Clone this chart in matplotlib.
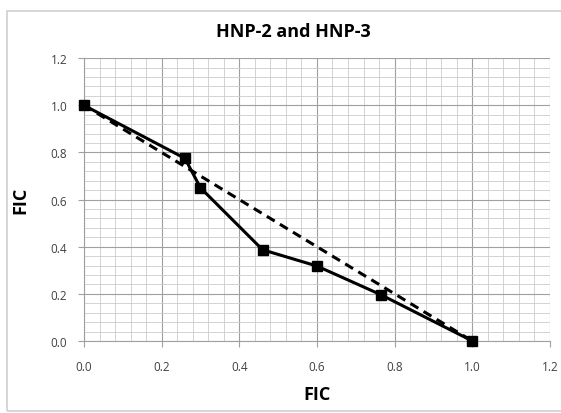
import matplotlib
matplotlib.use("Agg")
from matplotlib import pyplot as plt
from matplotlib.patches import Rectangle
from matplotlib.ticker import MultipleLocator

plt.rcParams['font.family'] = ['Open Sans', 'DejaVu Sans']

# measured combination points
fic_x = [0.0, 0.26, 0.30, 0.46, 0.60, 0.765, 1.0]
fic_y = [1.0, 0.775, 0.65, 0.387, 0.318, 0.196, 0.0]

# additivity line
line_x = [0.0, 1.0]
line_y = [1.0, 0.0]

title = 'HNP-2 and HNP-3'

fig = plt.figure(figsize=(5.61, 4.14), dpi=100)
ax = fig.add_axes([0.1497, 0.174, 0.8305, 0.683])

# light frame around the chart area
fig.patches.append(Rectangle((7/561, 2/414), 556/561, 400/414, transform=fig.transFigure,
                             fill=False, edgecolor='#d0d0d0', linewidth=1.2))

ax.plot(line_x, line_y, color='black', linestyle=(0, (3, 2)), linewidth=2.2, zorder=3)
ax.plot(fic_x, fic_y, color='black', linewidth=2.2, marker='s', markersize=7,
        zorder=4, clip_on=False)

ax.set_xlim(0, 1.2)
ax.set_ylim(0, 1.2)
ax.xaxis.set_major_locator(MultipleLocator(0.2))
ax.yaxis.set_major_locator(MultipleLocator(0.2))
ax.xaxis.set_minor_locator(MultipleLocator(0.04))
ax.yaxis.set_minor_locator(MultipleLocator(0.04))
ax.xaxis.set_major_formatter(lambda v, p: f'{v:.1f}')
ax.yaxis.set_major_formatter(lambda v, p: f'{v:.1f}')

ax.grid(True, which='major', color='#a0a0a0', linewidth=0.8)
ax.grid(True, which='minor', color='#cccccc', linewidth=0.6)
ax.set_axisbelow(True)

for s in ['top', 'right']:
    ax.spines[s].set_visible(False)
for s in ['left', 'bottom']:
    ax.spines[s].set_color('#a0a0a0')
ax.tick_params(which='major', length=4, color='#a0a0a0', labelsize=8.5, labelcolor='#404040')
ax.tick_params(axis='x', pad=10)
ax.tick_params(axis='y', pad=8)
ax.tick_params(which='minor', length=0)

ax.set_title(title, fontsize=13, fontweight='bold', pad=16, x=0.45)
ax.set_xlabel('FIC', fontsize=13, fontweight='bold', labelpad=8)
ax.set_ylabel('FIC', fontsize=13, fontweight='bold', labelpad=15)

fig.savefig('out.png', dpi=100)
